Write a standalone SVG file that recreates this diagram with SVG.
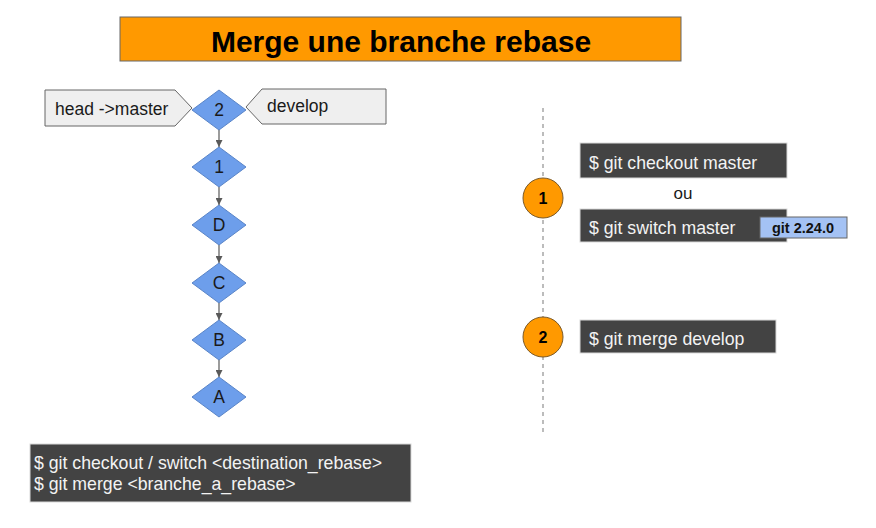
<svg xmlns="http://www.w3.org/2000/svg" width="876" height="528" viewBox="0 0 876 528">
<defs>
<style>
.t{font-family:"Liberation Sans",Arial,sans-serif;}
.dia{fill:#6d9eeb;stroke:#5a85c8;stroke-width:1;}
.lab{fill:#efefef;stroke:#666;stroke-width:1;}
.cmd{fill:#434343;stroke:#d9d9d9;stroke-width:1;}
.ct{font-family:"Liberation Sans",Arial,sans-serif;font-size:17.7px;fill:#f3f3f3;}
.dt{font-family:"Liberation Sans",Arial,sans-serif;font-size:17.5px;fill:#1a1a1a;text-anchor:middle;}
.circ{fill:#ff9900;stroke:#7a5a2a;stroke-width:1;}
.cn{font-family:"Liberation Sans",Arial,sans-serif;font-size:16px;font-weight:bold;fill:#000;text-anchor:middle;}
.edge{stroke:#666;stroke-width:1.3;fill:none;marker-end:url(#arr);}
</style>
<marker id="arr" viewBox="0 0 10 10" refX="10" refY="5" markerWidth="7" markerHeight="7" markerUnits="userSpaceOnUse" orient="auto">
<path d="M0,0 L10,5 L0,10 z" fill="#595959"/>
</marker>
</defs>
<rect width="876" height="528" fill="#fff"/>

<g id="title">
<rect x="120" y="17" width="561" height="44" fill="#ff9900" stroke="#666" stroke-width="1"/>
<text class="t" x="401" y="52" font-size="30" font-weight="bold" text-anchor="middle" fill="#000">Merge une branche rebase</text>
</g>

<g id="connectors">
<line class="edge" x1="219" y1="130" x2="219" y2="147"/>
<line class="edge" x1="219" y1="187" x2="219" y2="205"/>
<line class="edge" x1="219" y1="245" x2="219" y2="263"/>
<line class="edge" x1="219" y1="303" x2="219" y2="320"/>
<line class="edge" x1="219" y1="360" x2="219" y2="377"/>
<line x1="543" y1="108" x2="543" y2="432" stroke="#999" stroke-width="1.3" stroke-dasharray="4,4"/>
</g>

<g id="label-head">
<path class="lab" d="M45,90 H175 L192,108 L175,126 H45 Z"/>
<text class="t" x="55" y="115" font-size="17.5" fill="#1a1a1a">head -&gt;master</text>
</g>
<g id="label-develop">
<path class="lab" d="M246,107 L262,89 H386 V124 H262 Z"/>
<text class="t" x="267" y="112" font-size="17.5" fill="#1a1a1a">develop</text>
</g>

<g id="node-2"><path class="dia" d="M219,90 L246,110 L219,130 L192,110 Z"/><text class="dt" x="219" y="116">2</text></g>
<g id="node-1"><path class="dia" d="M219,147 L246,167 L219,187 L192,167 Z"/><text class="dt" x="219" y="173">1</text></g>
<g id="node-D"><path class="dia" d="M219,205 L246,225 L219,245 L192,225 Z"/><text class="dt" x="219" y="231">D</text></g>
<g id="node-C"><path class="dia" d="M219,263 L246,283 L219,303 L192,283 Z"/><text class="dt" x="219" y="289">C</text></g>
<g id="node-B"><path class="dia" d="M219,320 L246,340 L219,360 L192,340 Z"/><text class="dt" x="219" y="346">B</text></g>
<g id="node-A"><path class="dia" d="M219,377 L246,397 L219,417 L192,397 Z"/><text class="dt" x="219" y="403">A</text></g>

<g id="step-1">
<circle class="circ" cx="543" cy="198" r="20"/>
<text class="cn" x="543" y="204">1</text>
</g>
<g id="cmd-checkout">
<rect class="cmd" x="580" y="143" width="207" height="35"/>
<text class="ct" x="589" y="169">$ git checkout master</text>
</g>
<g id="ou">
<text class="t" x="683" y="199" font-size="17" text-anchor="middle" fill="#1a1a1a">ou</text>
</g>
<g id="cmd-switch">
<rect class="cmd" x="580" y="209" width="207" height="33"/>
<text class="ct" x="589" y="234">$ git switch master</text>
</g>
<g id="badge">
<rect x="760" y="217" width="87" height="21" fill="#a4c2f4" stroke="#666" stroke-width="1"/>
<text class="t" x="803" y="233" font-size="14.5" font-weight="bold" text-anchor="middle" fill="#111">git 2.24.0</text>
</g>

<g id="step-2">
<circle class="circ" cx="543" cy="337" r="20"/>
<text class="cn" x="543" y="343">2</text>
</g>
<g id="cmd-merge">
<rect class="cmd" x="580" y="320" width="196" height="33"/>
<text class="ct" x="589" y="345">$ git merge develop</text>
</g>

<g id="summary">
<rect class="cmd" x="30" y="444" width="381" height="58"/>
<text class="ct" x="34" y="469">$ git checkout / switch &lt;destination_rebase&gt;</text>
<text class="ct" x="34" y="490">$ git merge &lt;branche_a_rebase&gt;</text>
</g>
</svg>
